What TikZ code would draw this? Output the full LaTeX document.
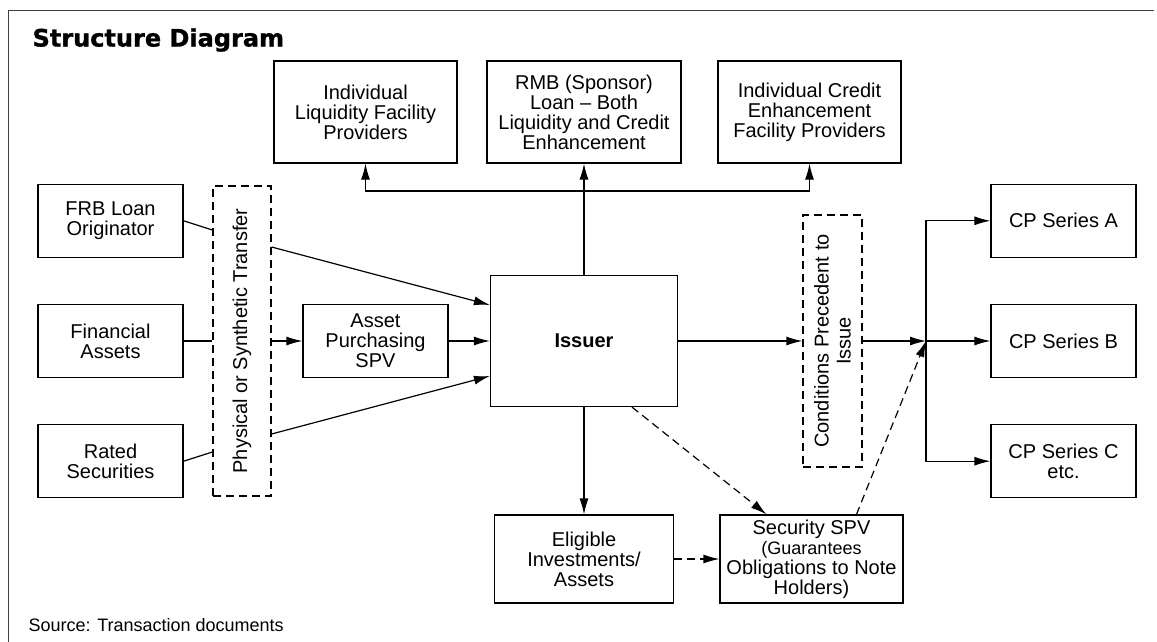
\documentclass[tikz,border=0pt]{standalone}
\usepackage{fontspec}
\setmainfont{Liberation Sans}
\newfontfamily\titlefont{DejaVu Sans Bold}[FakeBold=1.2]
\usetikzlibrary{arrows.meta,positioning}

\begin{document}
\begin{tikzpicture}[x=1pt,y=-1pt,>={Latex[length=16pt,width=9pt]},line width=1.2pt,
                    main node/.style={rectangle,draw,align=center,inner sep=0pt,
                                      font=\fontsize{20}{20}\selectfont},
                    side node/.style={main node,minimum width=145pt,minimum height=73pt},
                    top node/.style={main node,minimum width=183pt,minimum height=102pt},
                    low node/.style={main node,minimum height=88pt},
                    dash node/.style={main node,dash pattern=on 8pt off 5pt},
                    side text/.style={rotate=90,align=center,font=\fontsize{20}{22}\selectfont},
                    dash line/.style={dash pattern=on 8pt off 5pt}]
  \useasboundingbox (0,0) rectangle (1157,642);
  \draw[line width=0.9pt,black!75] (8,642) -- (8,10) -- (1154,10);
  \node[anchor=west,inner sep=0pt,font=\titlefont\fontsize{24}{24}\selectfont] (title) at (32,40) {Structure Diagram};
  \node[anchor=west,inner sep=0pt,font=\fontsize{18}{18}\selectfont] (source) at (28,625) {Source: Transaction documents};

  \node[side node] (fin) at (110.5,341) {Financial\\Assets};
  \node[side node] (frb) [above=46pt of fin] {FRB Loan\\Originator};
  \node[side node] (rated) [below=46pt of fin] {Rated\\Securities};
  \node[dash node,minimum width=58pt,minimum height=310pt] (phys) at (242,341) {};
  \node[side text] (phys text) at (phys) {Physical or Synthetic Transfer};
  \node[side node] (apspv) at (375.5,341) {Asset\\Purchasing\\SPV};
  \node[main node,minimum width=187pt,minimum height=131pt,
        font=\bfseries\fontsize{20}{20}\selectfont] (issuer) at (584,341) {Issuer};
  \node[top node] (liq) at (365.5,112) {Individual\\Liquidity Facility\\Providers};
  \node[top node,minimum width=194pt] (rmb) at (584,112) {RMB (Sponsor)\\Loan -- Both\\Liquidity and Credit\\Enhancement};
  \node[top node] (cred) at (809.5,112) {Individual Credit\\Enhancement\\Facility Providers};
  \node[dash node,minimum width=59pt,minimum height=252pt] (cond) at (832.5,341) {};
  \node[side text] (cond text) at (cond) {Conditions Precedent to\\Issue};
  \node[side node] (cpB) at (1063.5,341) {CP Series B};
  \node[side node] (cpA) [above=46pt of cpB] {CP Series A};
  \node[side node] (cpC) [below=46pt of cpB] {CP Series C\\etc.};
  \node[low node,minimum width=179pt] (elig) at (584,559) {Eligible\\Investments/\\Assets};
  \node[low node,minimum width=183pt] (sec) at (811.5,559) {Security SPV\\\fontsize{18}{18}\selectfont (Guarantees\\Obligations to Note\\Holders)};

  \coordinate (bus) at (584,191);
  \coordinate (junc) at (926,341);

  \draw[->] (issuer.north) -- (rmb.south);
  \draw[->] (bus) -| (liq.south);
  \draw[->] (bus) -| (cred.south);
  \draw (frb.east) -- (phys.west |- 0,230);
  \draw[->] (phys.east |- 0,247) -- (issuer.west |- 0,305);
  \draw (fin.east) -- (phys.west);
  \draw[->] (phys.east) -- (apspv.west);
  \draw[->] (apspv.east) -- (issuer.west);
  \draw (rated.east) -- (phys.west |- 0,452);
  \draw[->] (phys.east |- 0,434) -- (issuer.west |- 0,376);
  \draw[->] (issuer.east) -- (cond.west);
  \draw[->] (cond.east) -- (junc);
  \draw[->] (junc) -- (cpB.west);
  \draw[->] (junc) |- (cpA.west);
  \draw[->] (junc) |- (cpC.west);
  \draw[->] (issuer.south) -- (elig.north);
  \draw[->,dash line] ([xshift=48pt]issuer.south) -- ([xshift=-45pt]sec.north);
  \draw[->,dash line] (elig.east) -- (sec.west);
  \draw[->,dash line] ([xshift=45pt]sec.north) -- (junc);
\end{tikzpicture}
\end{document}
